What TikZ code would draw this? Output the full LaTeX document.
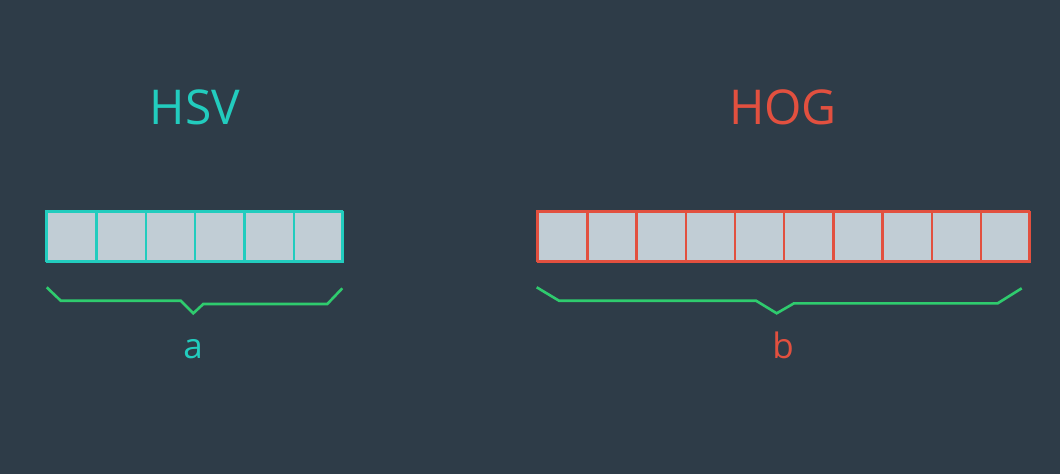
\documentclass[tikz,border=0pt]{standalone}
\usepackage{fontspec}
\setmainfont{Open Sans}
\definecolor{bg}{HTML}{2E3C48}
\definecolor{teal}{HTML}{22CCBE}
\definecolor{redc}{HTML}{E2503F}
\definecolor{cellfill}{HTML}{C1CDD5}
\definecolor{bracec}{HTML}{2FCB6E}
\tikzset{
  cellbox/.style={draw=#1, fill=cellfill, line width=2.4pt, minimum width=49.3pt, minimum height=50pt, inner sep=0pt, anchor=north west},
  bracel/.style={draw=bracec, line width=2.6pt, line join=miter},
  title/.style={font=\fontsize{48}{50}\selectfont, inner sep=0pt},
  lab/.style={font=\fontsize{35}{38}\selectfont, inner sep=0pt}
}
\begin{document}
\begin{tikzpicture}[x=1pt,y=-1pt]
\useasboundingbox[fill=bg] (0,0) rectangle (1060,474);
% HSV cells
\foreach \i in {0,...,5} {
  \node[cellbox=teal] (h\i) at ({46+\i*49.33},211) {};
}
\draw[teal, line width=2.4pt] (46,211) rectangle (342,261);
% HOG cells
\foreach \i in {0,...,9} {
  \node[cellbox=redc, minimum width=49.2pt] (g\i) at ({537+\i*49.2},211) {};
}
\draw[redc, line width=2.4pt] (537,211) rectangle (1029,261);
% titles
\node[title, text=teal] (hsv) at (195,107) {HSV};
\node[title, text=redc] (hog) at (783,107) {HOG};
% braces
\draw[bracel] (46.7,287.3) -- (60.7,300.7) -- (180.7,300.7) -- (193.3,313.3) -- (203.3,304) -- (327.3,304) -- (342.3,288.3);
\draw[bracel] (536.7,287.3) -- (559,300.7) -- (756,300.7) -- (776.7,313.3) -- (794,303.3) -- (997.7,303.3) -- (1021.7,288.3);
% labels
\node[lab, text=teal, anchor=base] (la) at (193,358) {a};
\node[lab, text=redc, anchor=base] (lb) at (783,358) {b};
\end{tikzpicture}
\end{document}
